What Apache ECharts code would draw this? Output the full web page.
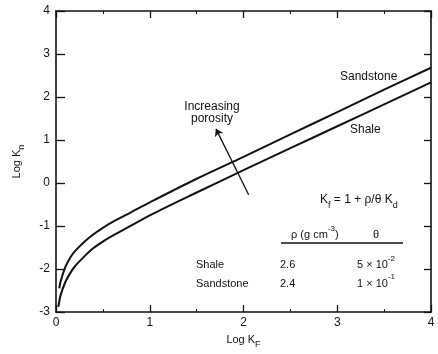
<!DOCTYPE html>
<html><head><meta charset="utf-8">
<script src="https://cdn.jsdelivr.net/npm/echarts@6/dist/echarts.min.js"></script>
<style>html,body{margin:0;padding:0;background:#fff}#c{width:438px;height:354px}</style>
</head><body><div id="c"></div>
<script>
// Data
const sandX = [0.035, 0.05, 0.1, 0.15, 0.2, 0.3, 0.4, 0.5, 0.6, 0.8, 1.0, 1.5, 2.0, 2.5, 3.0, 3.5, 4.0];
const sandY = [-2.45, -2.28, -1.95, -1.74, -1.59, -1.37, -1.19, -1.04, -0.91, -0.68, -0.45, 0.10, 0.61, 1.13, 1.65, 2.17, 2.68];
const shaleX = [0.025, 0.05, 0.1, 0.15, 0.2, 0.3, 0.4, 0.5, 0.6, 0.8, 1.0, 1.5, 2.0, 2.5, 3.0, 3.5, 4.0];
const shaleY = [-2.88, -2.60, -2.30, -2.10, -1.94, -1.71, -1.51, -1.36, -1.23, -0.99, -0.75, -0.22, 0.30, 0.81, 1.32, 1.83, 2.34];
const arrowFrom = [2.055, -0.27];
const arrowTo = [1.706, 1.26];
const xTicks = ['0', '1', '2', '3', '4'];
const yTicks = ['-3', '-2', '-1', '0', '1', '2', '3', '4'];
const materials = ['Shale', 'Sandstone'];
const densities = ['2.6', '2.4'];
const thetas = [['5 × 10', '-2'], ['1 × 10', '-1']];

const FONT = 'Liberation Sans, Arial, sans-serif';
const chart = echarts.init(document.getElementById('c'));
const pair = (xs, ys) => xs.map((x, i) => [x, ys[i]]);
const axisCommon = {
  type: 'value', min: 0, max: 4, interval: 1,
  axisLine: { show: true, onZero: false, lineStyle: { color: '#111', width: 1.6 } },
  axisTick: { show: true, inside: true, length: 7, lineStyle: { color: '#111', width: 1.3 } },
  minorTick: { show: true, splitNumber: 2, length: 3, lineStyle: { color: '#111', width: 1 } },
  splitLine: { show: false }
};
const sub = { fontSize: 9, verticalAlign: 'bottom', padding: [0, 0, -4, 0], fontFamily: FONT, color: '#111' };
const sup = { fontSize: 8, verticalAlign: 'top', padding: [-5, 0, 0, 0], fontFamily: FONT, color: '#111' };
const txt = (x, y, text, extra) => Object.assign({
  type: 'text', x: x, y: y,
  style: Object.assign({ text: text, font: '12px ' + FONT, fill: '#111', textVerticalAlign: 'middle' }, extra || {})
});

const graphics = [
  txt(340, 77, 'Sandstone'),
  txt(350, 130, 'Shale'),
  txt(212, 107, 'Increasing', { textAlign: 'center' }),
  txt(212, 119, 'porosity', { textAlign: 'center' }),
  {
    type: 'text', x: 320, y: 200,
    style: { text: 'K{s|f} = 1 + ρ/θ K{s|d}', font: '12px ' + FONT, fill: '#111', textVerticalAlign: 'middle', rich: { s: sub } }
  },
  {
    type: 'text', x: 291, y: 235,
    style: { text: 'ρ (g cm{p|-3})', font: '11px ' + FONT, fill: '#111', textVerticalAlign: 'middle', rich: { p: sup } }
  },
  txt(373, 235, 'θ', { font: '11px ' + FONT }),
  { type: 'line', shape: { x1: 281, y1: 243, x2: 403, y2: 243 }, style: { stroke: '#111', lineWidth: 1.4 } }
];
materials.forEach((m, i) => {
  const y = 265 + i * 18.5;
  graphics.push(txt(196, y, m, { font: '11px ' + FONT }));
  graphics.push(txt(280, y, densities[i], { font: '11px ' + FONT }));
  graphics.push({
    type: 'text', x: 357, y: y,
    style: { text: thetas[i][0] + '{p|' + thetas[i][1] + '}', font: '11px ' + FONT, fill: '#111', textVerticalAlign: 'middle', rich: { p: sup } }
  });
});

chart.setOption({
  animation: false,
  backgroundColor: '#fff',
  grid: { left: 56, right: 7, top: 11, bottom: 38.5, show: false },
  xAxis: [
    Object.assign({}, axisCommon, {
      position: 'bottom',
      name: 'Log K{s|F}', nameLocation: 'middle', nameGap: 19,
      nameTextStyle: { fontSize: 11, color: '#111', fontFamily: FONT, rich: { s: sub } },
      axisLabel: { color: '#111', fontSize: 12, fontFamily: FONT, margin: 5, formatter: v => xTicks[Math.round(v)] }
    }),
    Object.assign({}, axisCommon, { position: 'top', axisLabel: { show: false } })
  ],
  yAxis: [
    Object.assign({}, axisCommon, {
      min: -3, max: 4, position: 'left',
      axisTick: { show: true, inside: true, length: 9, lineStyle: { color: '#111', width: 1.3 } },
      minorTick: { show: false },
      name: 'Log K{s|n}', nameLocation: 'middle', nameGap: 34, nameRotate: 90,
      nameTextStyle: { fontSize: 11, color: '#111', fontFamily: FONT, rich: { s: sub } },
      axisLabel: { color: '#111', fontSize: 12, fontFamily: FONT, margin: 6, formatter: v => yTicks[Math.round(v) + 3] }
    }),
    Object.assign({}, axisCommon, {
      min: -3, max: 4, position: 'right', minorTick: { show: false },
      axisLabel: { show: false }
    })
  ],
  series: [
    {
      name: 'Sandstone', type: 'line', data: pair(sandX, sandY), smooth: 0.3,
      showSymbol: false, lineStyle: { color: '#111', width: 2 }, silent: true,
      markLine: {
        silent: true, symbol: ['none', 'arrow'], symbolSize: 7,
        lineStyle: { color: '#111', width: 1.3, type: 'solid' }, label: { show: false },
        data: [[{ coord: arrowFrom }, { coord: arrowTo }]]
      }
    },
    {
      name: 'Shale', type: 'line', data: pair(shaleX, shaleY), smooth: 0.3,
      showSymbol: false, lineStyle: { color: '#111', width: 2 }, silent: true
    }
  ],
  graphic: graphics
});
</script></body></html>
